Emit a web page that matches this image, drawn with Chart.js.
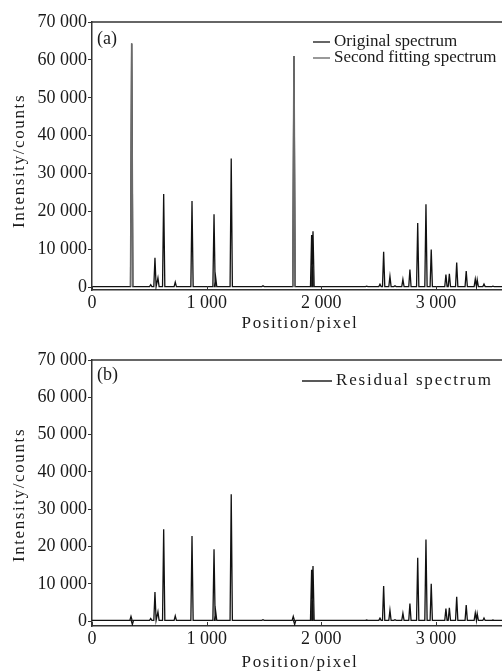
<!DOCTYPE html>
<html>
<head>
<meta charset="utf-8">
<script src="https://cdn.jsdelivr.net/npm/chart.js@4.4.1/dist/chart.umd.min.js"></script>
<style>
  html, body { margin: 0; padding: 0; background: #fff; overflow: hidden; }
  canvas { display: block; }
</style>
</head>
<body>
<canvas id="chartA" width="502" height="336"></canvas>
<canvas id="chartB" width="502" height="336"></canvas>
<script>
// ------------------------------------------------------------
// DATOS
// ------------------------------------------------------------
const xTicks = [0, 1000, 2000, 3000];
const yTicks = [0, 10000, 20000, 30000, 40000, 50000, 60000, 70000];

// picos comunes (espectro original sin los dos picos ajustados)
const peakPos = [512, 549, 575, 625, 726, 872, 1064, 1078, 1214, 1491, 1915, 1927,
  2395, 2511, 2543, 2598, 2642, 2711, 2772, 2840, 2912, 2958, 3086, 3116, 3180,
  3263, 3342, 3359, 3418, 3496];
const peakInt = [700, 7800, 2500, 24600, 1400, 22800, 19300, 2700, 34000, 400, 13800, 14800,
  300, 800, 9400, 2900, 400, 2100, 4700, 17000, 21900, 10000, 3400, 3600, 6550,
  4300, 2200, 2000, 850, 300];

// picos del segundo ajuste
const fitPos = [346, 1761];
const fitInt = [64300, 61000];

// restos en el espectro residual
const residPos = [340, 352, 1755, 1767];
const residInt = [1300, -900, 1300, -900];

const baseLevel = 200;
const xMax = 3575;

// ------------------------------------------------------------
// ARMAR SERIES
// ------------------------------------------------------------
function juntar(posA, intA, posB, intB) {
  return posA.map((p, i) => ({ p, v: intA[i] }))
    .concat(posB.map((p, i) => ({ p, v: intB[i] })))
    .sort((a, b) => a.p - b.p);
}

function espectro(picos, conBase) {
  const hw = 10;
  const pts = [];
  if (conBase) pts.push({ x: 0, y: baseLevel });
  for (const pk of picos) {
    pts.push({ x: pk.p - hw, y: baseLevel });
    pts.push({ x: pk.p, y: pk.v });
    pts.push({ x: pk.p + hw, y: baseLevel });
    if (!conBase) pts.push({ x: pk.p + hw + 1, y: null });
  }
  if (conBase) pts.push({ x: xMax, y: baseLevel });
  return pts;
}

const original = espectro(juntar(peakPos, peakInt, fitPos, fitInt), true);
const ajuste = espectro(juntar([], [], fitPos, fitInt), false);
const residual = espectro(juntar(peakPos, peakInt, residPos, residInt), true);

function fmt(v) {
  return String(v).replace(/\B(?=(\d{3})+(?!\d))/g, " ");
}

const FONT = "'Liberation Serif', 'Times New Roman', serif";
const INK = "#1a1a1a";

// ------------------------------------------------------------
// PLUGIN: marco, ticks internos, rótulos y leyenda
// ------------------------------------------------------------
const decorPlugin = {
  id: "decor",
  afterDraw(chart, args, opts) {
    const ctx = chart.ctx;
    const a = chart.chartArea;
    ctx.save();
    // borde superior
    ctx.strokeStyle = "#333";
    ctx.lineWidth = 1.5;
    ctx.beginPath();
    ctx.moveTo(a.left, a.top);
    ctx.lineTo(a.right, a.top);
    ctx.stroke();
    // ticks hacia adentro en eje x
    const xs = chart.scales.x;
    ctx.lineWidth = 1;
    for (const v of xTicks) {
      const px = Math.round(xs.getPixelForValue(v)) + 0.5;
      ctx.beginPath();
      ctx.moveTo(px, a.bottom);
      ctx.lineTo(px, a.bottom - 4);
      ctx.stroke();
    }
    ctx.fillStyle = INK;
    ctx.font = "18px " + FONT;
    ctx.textBaseline = "middle";
    // (a) / (b)
    ctx.textAlign = "left";
    ctx.fillText(opts.panel, a.left + 5, a.top + opts.panelDy);
    // leyenda
    ctx.font = "17px " + FONT;
    ctx.letterSpacing = opts.legendSpacing || "0px";
    for (const item of opts.legend) {
      ctx.strokeStyle = item.color;
      ctx.lineWidth = 1.5;
      ctx.beginPath();
      ctx.moveTo(item.x0, a.top + item.dy);
      ctx.lineTo(item.x1, a.top + item.dy);
      ctx.stroke();
      ctx.fillText(item.text, item.x1 + 4, a.top + item.dy);
    }
    // títulos de ejes
    ctx.letterSpacing = "1.6px";
    ctx.textAlign = "center";
    ctx.fillText("Position/pixel", 300, a.bottom + opts.xTitleDy);
    ctx.translate(20, opts.yTitleY);
    ctx.rotate(-Math.PI / 2);
    ctx.fillText("Intensity/counts", 0, 0);
    ctx.restore();
  },
};

function opcionesEscalas(yMin) {
  return {
    x: {
      type: "linear",
      min: 0,
      max: xMax,
      afterFit: (s) => { s.height = 46; },
      afterBuildTicks: (s) => { s.ticks = xTicks.map((v) => ({ value: v })); },
      grid: { display: false, drawTicks: false, tickLength: 0 },
      border: { display: true, color: "#333", width: 1.5 },
      ticks: {
        autoSkip: false,
        maxRotation: 0,
        padding: 2,
        color: INK,
        font: { family: FONT, size: 18 },
        callback: (v) => fmt(v),
      },
    },
    y: {
      min: yMin,
      max: 70000,
      afterFit: (s) => { s.width = 92; },
      afterBuildTicks: (s) => { s.ticks = yTicks.map((v) => ({ value: v })); },
      grid: { drawOnChartArea: false, tickLength: 4, color: "#333" },
      border: { display: true, color: "#333", width: 1.5 },
      ticks: {
        autoSkip: false,
        padding: 1,
        color: INK,
        font: { family: FONT, size: 18 },
        callback: (v) => fmt(v),
      },
    },
  };
}

function crearGrafico(id, datasets, yMin, padTop, decor) {
  return new Chart(document.getElementById(id), {
    type: "line",
    data: { datasets },
    options: {
      responsive: false,
      animation: false,
      layout: { padding: { top: padTop, left: 0, right: 0, bottom: 0 } },
      elements: { point: { radius: 0 }, line: { tension: 0 } },
      plugins: { legend: { display: false }, tooltip: { enabled: false }, decor },
      scales: opcionesEscalas(yMin),
    },
    plugins: [decorPlugin],
  });
}

// (a) original + segundo ajuste
crearGrafico("chartA", [
  { label: "Second fitting spectrum", data: ajuste, borderColor: "#6a6a6a", borderWidth: 1.6, spanGaps: false },
  { label: "Original spectrum", data: original, borderColor: "#111", borderWidth: 1.3 },
], -700, 22, {
  panel: "(a)",
  panelDy: 17,
  xTitleDy: 34,
  yTitleY: 161,
  legend: [
    { text: "Original spectrum", color: "#333", x0: 313, x1: 330, dy: 20 },
    { text: "Second fitting spectrum", color: "#777", x0: 313, x1: 330, dy: 36 },
  ],
});

// (b) residual
crearGrafico("chartB", [
  { label: "Residual spectrum", data: residual, borderColor: "#111", borderWidth: 1.3 },
], -1300, 24, {
  panel: "(b)",
  panelDy: 15,
  xTitleDy: 37,
  yTitleY: 159,
  legendSpacing: "1.8px",
  legend: [
    { text: "Residual spectrum", color: "#222", x0: 302, x1: 332, dy: 21 },
  ],
});
</script>
</body>
</html>
